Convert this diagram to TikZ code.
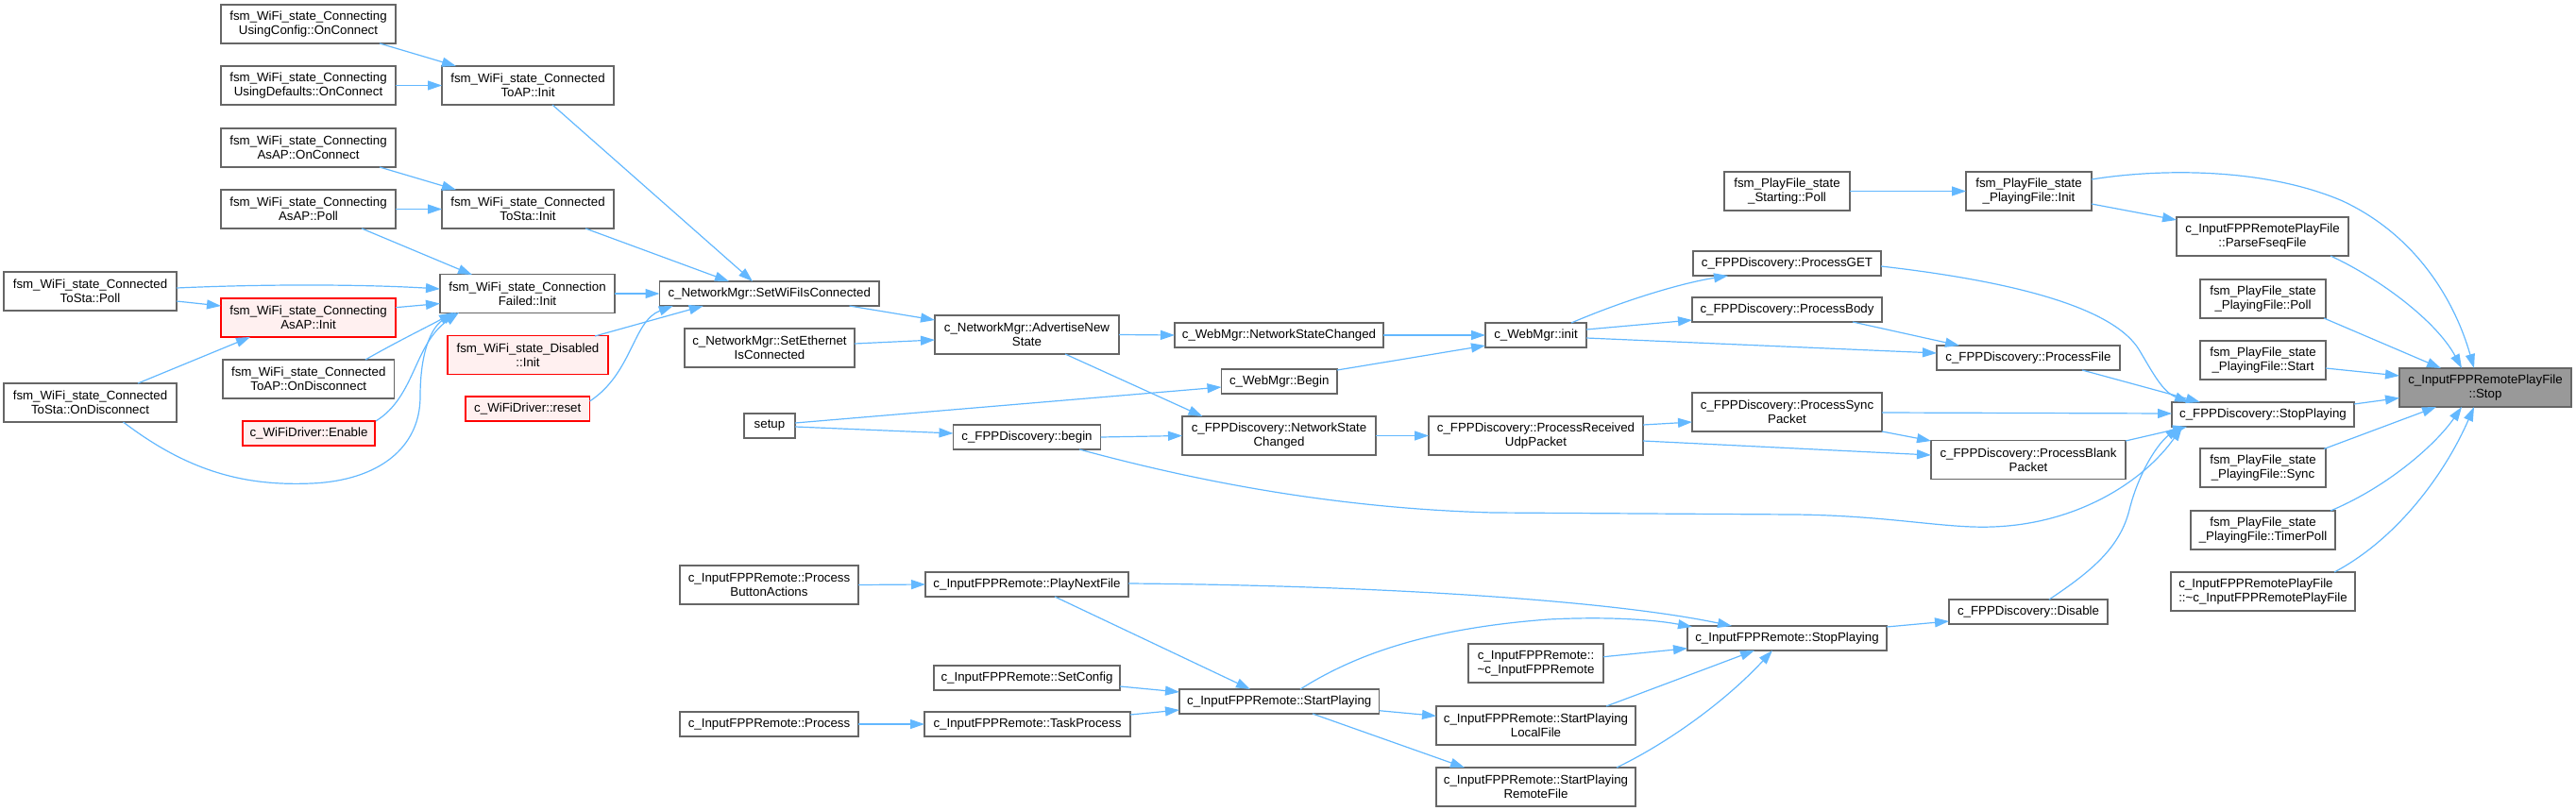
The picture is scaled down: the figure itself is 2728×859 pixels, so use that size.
\documentclass[tikz,border=0pt]{standalone}
\usepackage{fontspec}
\setmainfont{Liberation Sans}
\usetikzlibrary{arrows.meta,calc}
\definecolor{boxgray}{HTML}{666666}
\definecolor{edgeblue}{HTML}{63B8FF}
\definecolor{redfill}{HTML}{FFF0F0}
\definecolor{rootgray}{HTML}{999999}
\newcommand{\nfs}{\fontsize{13.3}{15}\selectfont}
\tikzset{
 nbox/.style={draw=boxgray, fill=white, line width=1.3pt, inner sep=0pt, outer sep=0pt, align=center, font=\nfs},
 nred/.style={nbox, draw=red, fill=redfill},
 nroot/.style={nbox, fill=rootgray},
 edge/.style={draw=edgeblue, line width=1.2pt, -{Triangle[length=15pt,width=10pt]}}
}
\begin{document}
\begin{tikzpicture}[x=1pt,y=-1pt]
\useasboundingbox (0,0) rectangle (2728,859);
% column 1
\node[nbox, minimum width=183, minimum height=41] (C1) at (95.5,308.5) {fsm\_WiFi\_state\_Connected\\ToSta::Poll};
\node[nbox, minimum width=183, minimum height=41] (C2) at (95.5,426.5) {fsm\_WiFi\_state\_Connected\\ToSta::OnDisconnect};
% column 2
\node[nbox, minimum width=185, minimum height=41] (A1) at (326.5,25.5) {fsm\_WiFi\_state\_Connecting\\UsingConfig::OnConnect};
\node[nbox, minimum width=185, minimum height=41] (A2) at (326.5,90.5) {fsm\_WiFi\_state\_Connecting\\UsingDefaults::OnConnect};
\node[nbox, minimum width=185, minimum height=41] (A3) at (326.5,156.5) {fsm\_WiFi\_state\_Connecting\\AsAP::OnConnect};
\node[nbox, minimum width=185, minimum height=41] (A4) at (326.5,221.5) {fsm\_WiFi\_state\_Connecting\\AsAP::Poll};
\node[nred, minimum width=185, minimum height=41] (D1) at (326.5,336.5) {fsm\_WiFi\_state\_Connecting\\AsAP::Init};
\node[nbox, minimum width=181.5, minimum height=41] (D2) at (326.75,401.5) {fsm\_WiFi\_state\_Connected\\ToAP::OnDisconnect};
\node[nred, minimum width=140, minimum height=26] (D3) at (327,459) {c\_WiFiDriver::Enable};
% column 3
\node[nbox, minimum width=182, minimum height=41] (B1) at (559,90.5) {fsm\_WiFi\_state\_Connected\\ToAP::Init};
\node[nbox, minimum width=182, minimum height=41] (B2) at (559,221.5) {fsm\_WiFi\_state\_Connected\\ToSta::Init};
\node[nbox, minimum width=185, minimum height=41] (E1) at (558.5,311) {fsm\_WiFi\_state\_Connection\\Failed::Init};
\node[nred, minimum width=170, minimum height=41] (E2) at (559,376) {fsm\_WiFi\_state\_Disabled\\::Init};
\node[nred, minimum width=131.5, minimum height=26] (E3) at (558.75,433) {c\_WiFiDriver::reset};
% column 4
\node[nbox, minimum width=232.5, minimum height=26] (F1) at (814.75,311) {c\_NetworkMgr::SetWiFiIsConnected};
\node[nbox, minimum width=180, minimum height=41] (F2) at (815,368.5) {c\_NetworkMgr::SetEthernet\\IsConnected};
\node[nbox, minimum width=54, minimum height=26] (G1) at (815,451) {setup};
\node[nbox, minimum width=189, minimum height=41] (P1) at (814.5,619.5) {c\_InputFPPRemote::Process\\ButtonActions};
\node[nbox, minimum width=189, minimum height=26] (P4) at (814.5,767) {c\_InputFPPRemote::Process};
% column 5
\node[nbox, minimum width=195, minimum height=41] (H1) at (1087.5,354.5) {c\_NetworkMgr::AdvertiseNew\\State};
\node[nbox, minimum width=156, minimum height=26] (H2) at (1087.5,463) {c\_FPPDiscovery::begin};
\node[nbox, minimum width=215, minimum height=26] (P2) at (1087.5,619) {c\_InputFPPRemote::PlayNextFile};
\node[nbox, minimum width=197, minimum height=26] (P3) at (1087.5,718) {c\_InputFPPRemote::SetConfig};
\node[nbox, minimum width=218, minimum height=26] (P5) at (1088,767) {c\_InputFPPRemote::TaskProcess};
% column 6
\node[nbox, minimum width=221, minimum height=26] (I1) at (1354.5,355) {c\_WebMgr::NetworkStateChanged};
\node[nbox, minimum width=122.5, minimum height=26] (I2) at (1354.75,404) {c\_WebMgr::Begin};
\node[nbox, minimum width=205, minimum height=41] (I3) at (1354.5,461.5) {c\_FPPDiscovery::NetworkState\\Changed};
\node[nbox, minimum width=211.6, minimum height=26] (Q1) at (1354.8,743) {c\_InputFPPRemote::StartPlaying};
% column 7
\node[nbox, minimum width=107, minimum height=26] (J1) at (1626.5,355) {c\_WebMgr::init};
\node[nbox, minimum width=227, minimum height=41] (J2) at (1626.5,461.5) {c\_FPPDiscovery::ProcessReceived\\UdpPacket};
\node[nbox, minimum width=143, minimum height=41] (R2) at (1626.5,702.5) {c\_InputFPPRemote::\\\textasciitilde c\_InputFPPRemote};
\node[nbox, minimum width=211, minimum height=41] (R3) at (1626.5,768.5) {c\_InputFPPRemote::StartPlaying\\LocalFile};
\node[nbox, minimum width=211, minimum height=41] (R4) at (1626.5,833.5) {c\_InputFPPRemote::StartPlaying\\RemoteFile};
% column 8
\node[nbox, minimum width=133, minimum height=41] (SP) at (1892.5,202.5) {fsm\_PlayFile\_state\\\_Starting::Poll};
\node[nbox, minimum width=199, minimum height=26] (K0) at (1892.5,279) {c\_FPPDiscovery::ProcessGET};
\node[nbox, minimum width=201, minimum height=26] (K1) at (1892.5,328) {c\_FPPDiscovery::ProcessBody};
\node[nbox, minimum width=201, minimum height=41] (K2) at (1892.5,436.5) {c\_FPPDiscovery::ProcessSync\\Packet};
\node[nbox, minimum width=211, minimum height=26] (R1) at (1892.5,676) {c\_InputFPPRemote::StopPlaying};
% column 9
\node[nbox, minimum width=133, minimum height=41] (L1) at (2148.5,202.5) {fsm\_PlayFile\_state\\\_PlayingFile::Init};
\node[nbox, minimum width=194, minimum height=26] (M1) at (2148,379) {c\_FPPDiscovery::ProcessFile};
\node[nbox, minimum width=206, minimum height=41] (M2) at (2148,487) {c\_FPPDiscovery::ProcessBlank\\Packet};
\node[nbox, minimum width=168, minimum height=26] (M3) at (2148,648) {c\_FPPDiscovery::Disable};
% column 10
\node[nbox, minimum width=182, minimum height=41] (L2) at (2396,250.5) {c\_InputFPPRemotePlayFile\\::ParseFseqFile};
\node[nbox, minimum width=133, minimum height=41] (N1) at (2396.5,316.5) {fsm\_PlayFile\_state\\\_PlayingFile::Poll};
\node[nbox, minimum width=133, minimum height=41] (N2) at (2396.5,381.5) {fsm\_PlayFile\_state\\\_PlayingFile::Start};
\node[nbox, minimum width=193, minimum height=26] (M0) at (2396.5,439) {c\_FPPDiscovery::StopPlaying};
\node[nbox, minimum width=133, minimum height=41] (N3) at (2396.5,495.5) {fsm\_PlayFile\_state\\\_PlayingFile::Sync};
\node[nbox, minimum width=153, minimum height=41] (N4) at (2396.5,561.5) {fsm\_PlayFile\_state\\\_PlayingFile::TimerPoll};
\node[nbox, minimum width=195, minimum height=41, align=left] (N5) at (2396.5,626.5) {c\_InputFPPRemotePlayFile\\::\textasciitilde c\_InputFPPRemotePlayFile};
% root
\node[nroot, minimum width=182, minimum height=41] (ST) at (2632,410.5) {c\_InputFPPRemotePlayFile\\::Stop};

% ---- edges ----
\draw[edge] ($(A1)+(75.5,20.5)$) -- ($(B1)+(-76,-20.5)$);
\draw[edge] (A2.east) -- (B1.west);
\draw[edge] ($(A3)+(75.5,20.5)$) -- ($(B2)+(-76,-20.5)$);
\draw[edge] (A4.east) -- (B2.west);
\draw[edge] ($(A4)+(56.5,20.5)$) -- ($(E1)+(-58.5,-20)$);
\draw[edge] ($(B1)+(26,20.5)$) -- ($(F1)+(-17.75,-13)$);
\draw[edge] ($(B2)+(61,20.5)$) -- ($(F1)+(-42.75,-13)$);
\draw[edge] ($(C1)+(91.5,-3.5)$) .. controls (300,300) and (400,302) .. ($(E1)+(-92.5,-5)$);
\draw[edge] ($(C1)+(91.5,10.5)$) -- ($(D1)+(-92.5,-12.5)$);
\draw[edge] ($(D1)+(92.5,-10.8)$) -- ($(E1)+(-92.5,10.5)$);
\draw[edge] ($(C2)+(50.5,-20.5)$) -- ($(D1)+(-61.5,20.5)$);
\draw[edge] ($(C2)+(35,20.5)$) .. controls (200,500) and (260,515) .. (330,512) .. controls (400,509) and (445,475) .. (445,420) .. controls (445,370) and (458,345) .. ($(E1)+(-75.5,20)$);
\draw[edge] ($(D2)+(60.25,-20.5)$) .. controls (420,362) and (455,345) .. ($(E1)+(-78.5,20)$);
\draw[edge] ($(D3)+(71,-13)$) .. controls (440,420) and (438,365) .. ($(E1)+(-72.5,20)$);
\draw[edge] (E1.east) -- (F1.west);
\draw[edge] ($(E2)+(71,-20)$) -- ($(F1)+(-70,13)$);
\draw[edge] ($(E3)+(65.75,-8)$) .. controls (670,395) and (670,340) .. ($(F1)+(-102,13)$);
\draw[edge] ($(F1)+(84.75,13)$) -- ($(H1)+(-97.5,-15.5)$);
\draw[edge] ($(F2)+(90,-4.5)$) -- ($(H1)+(-97.5,5.5)$);
\draw[edge] (H1.east) -- (I1.west);
\draw[edge] ($(H1)+(40.5,20.5)$) -- ($(I3)+(-81,-20.5)$);
\draw[edge] ($(G1)+(27,-3)$) -- ($(I2)+(-61.25,6)$);
\draw[edge] ($(G1)+(27,1)$) -- ($(H2)+(-78,-4)$);
\draw[edge] (H2.east) -- (I3.west);
\draw[edge] ($(H2)+(55.5,13)$) .. controls (1250,505) and (1400,538) .. (1581,543) -- (1900,545) .. controls (2000,546) and (2060,560) .. (2110,558) .. controls (2200,555) and (2270,510) .. ($(M0)+(-85.5,13)$);
\draw[edge] (I1.east) -- (J1.west);
\draw[edge] ($(I2)+(61.25,-12)$) -- ($(J1)+(-53.5,11)$);
\draw[edge] (I3.east) -- (J2.west);
\draw[edge] ($(J1)+(37.5,-13)$) .. controls (1720,318) and (1780,300) .. ($(K0)+(-62.5,13)$);
\draw[edge] ($(J1)+(53.5,-6)$) -- ($(K1)+(-100.5,11)$);
\draw[edge] ($(J1)+(53.5,3)$) -- ($(M1)+(-97,-5)$);
\draw[edge] ($(J2)+(113.5,-11.5)$) -- ($(K2)+(-100.5,10.5)$);
\draw[edge] ($(J2)+(113.5,5.5)$) -- ($(M2)+(-103,-5)$);
\draw[edge] ($(K2)+(100.5,0.5)$) -- ($(M0)+(-96.5,-1)$);
\draw[edge] ($(K2)+(100.5,20.5)$) -- ($(M2)+(-103,-20)$);
\draw[edge] ($(K1)+(69.5,13)$) -- ($(M1)+(-73,-13)$);
\draw[edge] ($(K0)+(99.5,3)$) .. controls (2150,300) and (2240,330) .. (2265,370) .. controls (2280,395) and (2290,415) .. ($(M0)+(-78.5,-13)$);
\draw[edge] ($(M1)+(57,13)$) -- ($(M0)+(-66.5,-13)$);
\draw[edge] ($(M2)+(103,-20)$) -- ($(M0)+(-80.5,13)$);
\draw[edge] ($(M3)+(22,-13)$) .. controls (2215,605) and (2245,580) .. (2255,540) .. controls (2265,500) and (2285,470) .. ($(M0)+(-88.5,13)$);
\draw[edge] (SP.east) -- (L1.west);
\draw[edge] ($(L1)+(66.5,13.5)$) -- ($(L2)+(-91,-17.5)$);
\draw[edge] ($(L1)+(66.5,-12.5)$) .. controls (2290,178) and (2400,178) .. (2481,213) .. controls (2560,250) and (2600,320) .. ($(ST)+(-12,-20.5)$);
\draw[edge] ($(L2)+(72,20.5)$) .. controls (2520,295) and (2580,340) .. ($(ST)+(-25,-20.5)$);
\draw[edge] ($(N1)+(64.5,20.5)$) -- ($(ST)+(-47,-20.5)$);
\draw[edge] ($(N2)+(66.5,8.5)$) -- ($(ST)+(-91,-12.5)$);
\draw[edge] ($(M0)+(96.5,-11)$) -- ($(ST)+(-91,11)$);
\draw[edge] ($(N3)+(64.5,-20)$) -- ($(ST)+(-52,20.5)$);
\draw[edge] ($(N4)+(71.5,-20.5)$) .. controls (2530,515) and (2580,470) .. ($(ST)+(-25,20.5)$);
\draw[edge] ($(N5)+(75.5,-20.5)$) .. controls (2540,570) and (2590,500) .. ($(ST)+(-12,20.5)$);
\draw[edge] ($(R1)+(105.5,-12)$) -- ($(M3)+(-84,10)$);
\draw[edge] (P1.east) -- (P2.west);
\draw[edge] ($(P2)+(29.5,13)$) -- ($(Q1)+(-30.8,-13)$);
\draw[edge] ($(P2)+(107.5,-1)$) .. controls (1450,620) and (1700,635) .. ($(R1)+(-58.5,-13)$);
\draw[edge] ($(P3)+(98.5,9)$) -- ($(Q1)+(-105.8,-10)$);
\draw[edge] (P4.east) -- (P5.west);
\draw[edge] ($(P5)+(109,-10)$) -- ($(Q1)+(-105.8,9)$);
\draw[edge] ($(Q1)+(22.2,-13)$) .. controls (1440,690) and (1520,665) .. (1640,656) .. controls (1700,653) and (1750,656) .. ($(R1)+(-100.5,-12)$);
\draw[edge] ($(Q1)+(105.8,9.7)$) -- ($(R3)+(-105.5,-10.2)$);
\draw[edge] ($(Q1)+(35.2,13)$) -- ($(R4)+(-75.5,-20.5)$);
\draw[edge] ($(R2)+(71.5,-6.8)$) -- ($(R1)+(-105.5,10.7)$);
\draw[edge] ($(R3)+(74.5,-20.5)$) -- ($(R1)+(-34.5,13)$);
\draw[edge] ($(R4)+(85.5,-20.5)$) .. controls (1770,785) and (1830,740) .. ($(R1)+(-15.5,13)$);
\end{tikzpicture}
\end{document}
